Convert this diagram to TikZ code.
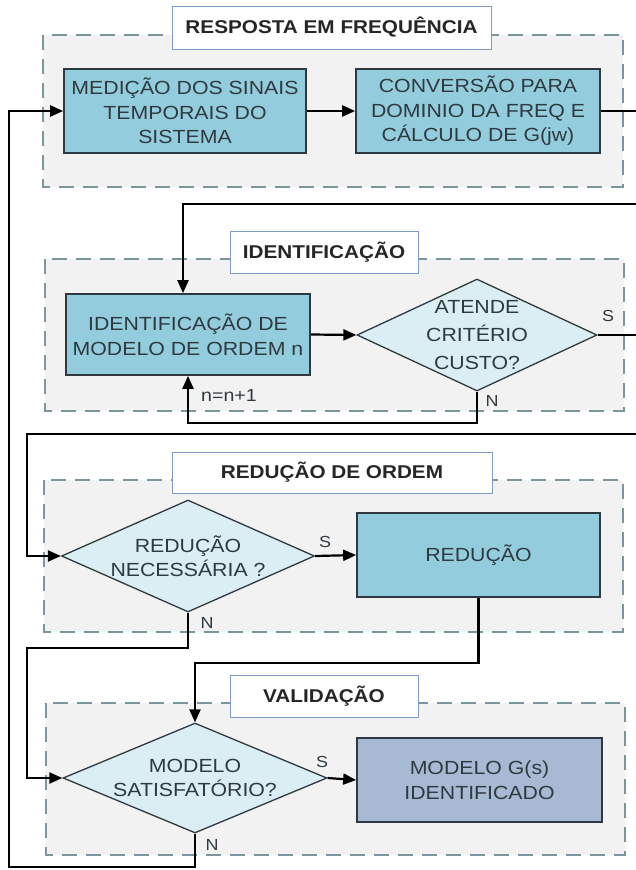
\documentclass[tikz,border=0pt]{standalone}
\usepackage{fontspec}
\setmainfont{Liberation Sans}[FakeStretch=1.12]
\usetikzlibrary{arrows.meta,shapes.geometric,calc}
\definecolor{boxfill}{HTML}{93CDDD}
\definecolor{dfill}{HTML}{DBEEF3}
\definecolor{mfill}{HTML}{A8B9D3}
\definecolor{grpfill}{HTML}{F2F2F2}
\definecolor{grpline}{HTML}{7D959C}
\definecolor{ttlline}{HTML}{7F9CC8}
\definecolor{edge}{HTML}{2E3A3F}
\definecolor{txt}{HTML}{2F3A40}
\begin{document}
\begin{tikzpicture}[x=1pt,y=-1pt,
  group/.style={draw=grpline,fill=grpfill,line width=1.8pt,dash pattern=on 15pt off 9pt},
  titlebox/.style={draw=ttlline,fill=white,line width=1pt,inner sep=0pt,
    font=\fontsize{18.5}{22}\selectfont\bfseries,text=black!85},
  procbox/.style={draw=edge,fill=boxfill,line width=1.7pt,inner sep=0pt,align=center,
    font=\fontsize{19}{24.5}\selectfont,text=txt},
  decision/.style={diamond,draw=edge,fill=dfill,line width=1.3pt,inner sep=0pt},
  dtext/.style={align=center,font=\fontsize{19}{24.5}\selectfont,text=txt,inner sep=0pt},
  small/.style={font=\fontsize{16}{18}\selectfont,text=txt,inner sep=0pt},
  conn/.style={draw=black,line width=2.2pt},
  tip/.style={-{Triangle[length=13pt,width=11pt]}}
]
\useasboundingbox (0,0) rectangle (636,870);
\clip (0,0) rectangle (636,870);
\fill[white] (0,0) rectangle (636,870);

% groups
\draw[group] (43,35) rectangle (623,187);
\draw[group] (45,259) rectangle (624,411);
\draw[group] (44,480) rectangle (623,632);
\draw[group] (46,703) rectangle (625,855);

% titles
\node[titlebox,minimum width=319pt,minimum height=43pt] (T1) at (331.5,27.5) {RESPOSTA EM FREQUÊNCIA};
\node[titlebox,minimum width=188pt,minimum height=42pt] (T2) at (324,252) {IDENTIFICAÇÃO};
\node[titlebox,minimum width=320pt,minimum height=41pt] (T3) at (332,472.5) {REDUÇÃO DE ORDEM};
\node[titlebox,minimum width=188pt,minimum height=42pt] (T4) at (324,696) {VALIDAÇÃO};

% section 1
\node[procbox,minimum width=242pt,minimum height=84pt] (A) at (185,111)
  {MEDIÇÃO DOS SINAIS\\TEMPORAIS DO\\SISTEMA};
\node[procbox,minimum width=244pt,minimum height=84pt] (B) at (478,111)
  {CONVERSÃO PARA\\DOMINIO DA FREQ E\\CÁLCULO DE G(jw)};

% section 2
\node[procbox,minimum width=244pt,minimum height=81pt] (C) at (188,334.5)
  {IDENTIFICAÇÃO DE\\MODELO DE ORDEM n};
\node[decision,minimum width=240pt,minimum height=112pt] (D1) at (477,335) {};
\node[dtext,font=\fontsize{19}{28}\selectfont] (D1t) at (D1) {ATENDE\\CRITÉRIO\\CUSTO?};

% section 3
\node[decision,minimum width=253pt,minimum height=112pt] (D2) at (188,556) {};
\node[dtext] (D2t) at (D2) {REDUÇÃO\\NECESSÁRIA ?};
\node[procbox,minimum width=243pt,minimum height=84pt] (R) at (478.5,555) {REDUÇÃO};

% section 4
\node[decision,minimum width=264pt,minimum height=110pt] (D3) at (195,778) {};
\node[dtext] (D3t) at (D3) {MODELO\\SATISFATÓRIO?};
\node[procbox,fill=mfill,minimum width=245pt,minimum height=84pt] (M) at (479.5,780)
  {MODELO G(s)\\IDENTIFICADO};

% labels
\node[small] (S1) at (608,316) {S};
\node[small] (N1) at (492,401) {N};
\node[small,anchor=west,font=\fontsize{17.5}{20}\selectfont] (NN) at (201,395) {n=n+1};
\node[small] (S2) at (325,542) {S};
\node[small] (N2) at (207,623) {N};
\node[small] (S3) at (322,762) {S};
\node[small] (N3) at (212,845) {N};

% connectors
\draw[conn,tip] (A.east) -- (B.west);
\draw[conn,tip] (B.east) -- (640,111) -- (640,204) -- (183,204) -- ($(C.north)+(-5,0)$);
\draw[conn,tip] (C.east) -- (D1.west);
\draw[conn,tip] (D1.south) -- (477,423) -- (188,423) -- (C.south);
\draw[conn,tip] (D1.east) -- (640,335) -- (640,434) -- (27,434) -- (27,556) -- (D2.west);
\draw[conn,tip] (D2.east) -- (R.west);
\draw[conn,tip] (D2.south) -- (188,648) -- (27,648) -- (27,778) -- (D3.west);
\draw[conn,tip] (R.south) -- (478.5,663) -- (195,663) -- (D3.north);
\draw[conn,tip] (D3.east) -- (M.west);
\draw[conn,tip] (D3.south) -- (195,867) -- (9,867) -- (9,111) -- (A.west);
\end{tikzpicture}
\end{document}
